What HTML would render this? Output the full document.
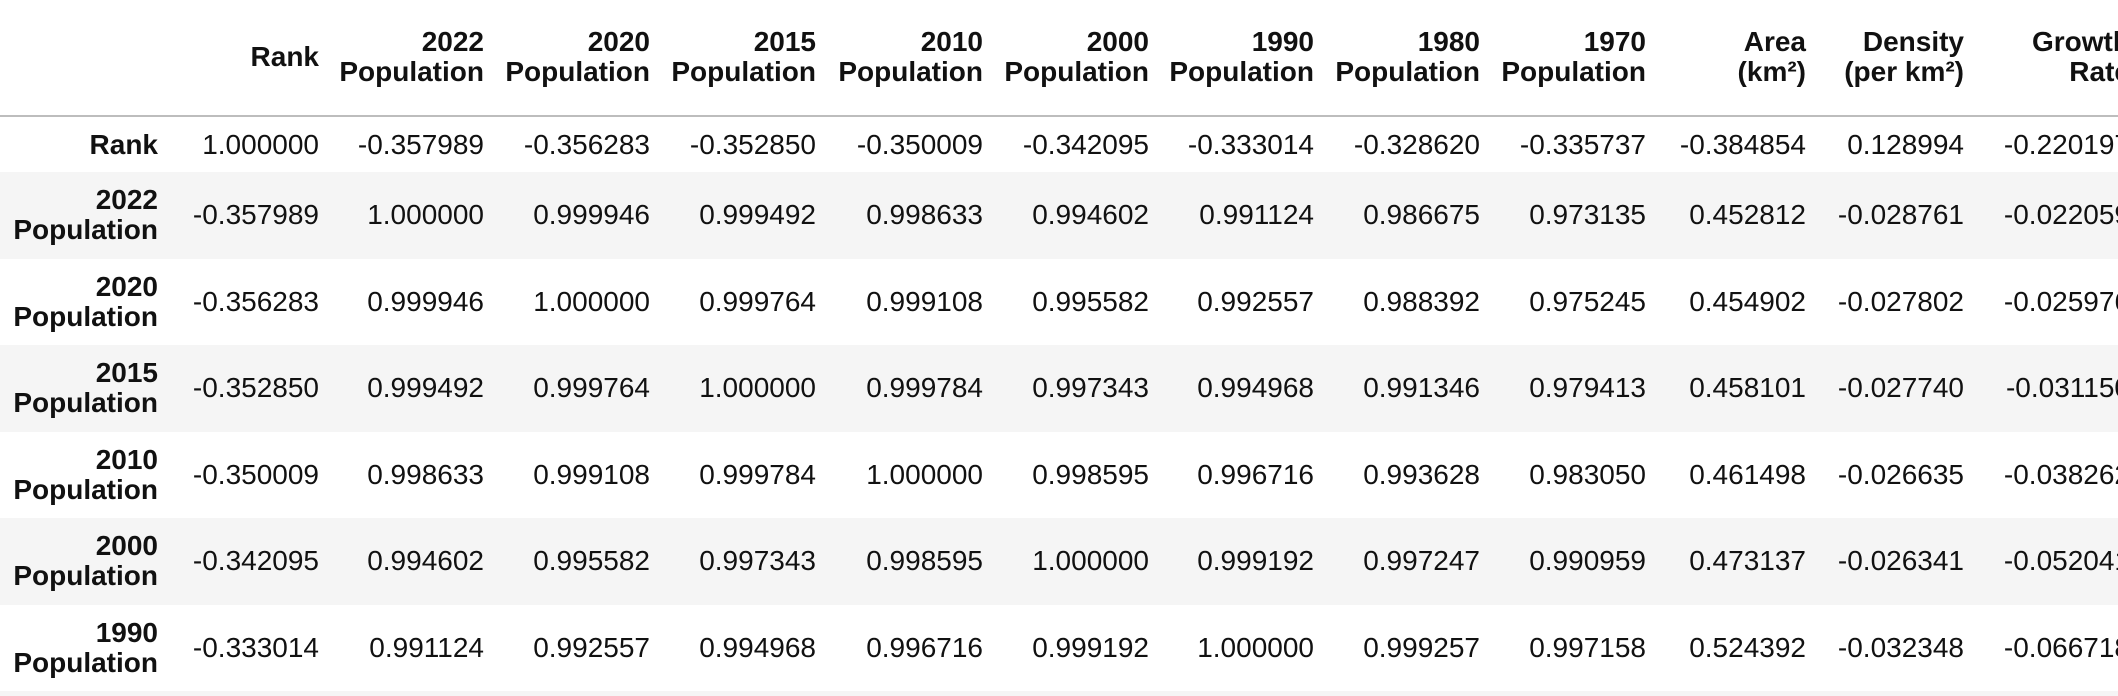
<!DOCTYPE html>
<html><head><meta charset="utf-8">
<style>
html{margin:0;padding:0;width:2118px;height:696px;overflow:hidden;background:#fff;}
body{margin:0;padding:0;width:2118px;height:696px;overflow:hidden;position:relative;background:#fff;font-family:"Liberation Sans",sans-serif;font-size:28px;color:#111;}
.row{position:absolute;left:0;width:2118px;overflow:hidden;}
.c{position:absolute;width:240px;text-align:right;white-space:nowrap;line-height:30px;}
.b{font-weight:bold;}
#hline{position:absolute;left:0;top:115px;width:2118px;height:2px;background:#bdbdbd;}
</style></head>
<body>
<div id="hline"></div>
<script>
const headers=[["Rank"],["2022","Population"],["2020","Population"],["2015","Population"],["2010","Population"],["2000","Population"],["1990","Population"],["1980","Population"],["1970","Population"],["Area","(km²)"],["Density","(per km²)"],["Growth","Rate"]];
const rowLabels=[["Rank"],["2022","Population"],["2020","Population"],["2015","Population"],["2010","Population"],["2000","Population"],["1990","Population"]];
const values=[
["1.000000","-0.357989","-0.356283","-0.352850","-0.350009","-0.342095","-0.333014","-0.328620","-0.335737","-0.384854","0.128994","-0.220197"],
["-0.357989","1.000000","0.999946","0.999492","0.998633","0.994602","0.991124","0.986675","0.973135","0.452812","-0.028761","-0.022059"],
["-0.356283","0.999946","1.000000","0.999764","0.999108","0.995582","0.992557","0.988392","0.975245","0.454902","-0.027802","-0.025976"],
["-0.352850","0.999492","0.999764","1.000000","0.999784","0.997343","0.994968","0.991346","0.979413","0.458101","-0.027740","-0.031150"],
["-0.350009","0.998633","0.999108","0.999784","1.000000","0.998595","0.996716","0.993628","0.983050","0.461498","-0.026635","-0.038262"],
["-0.342095","0.994602","0.995582","0.997343","0.998595","1.000000","0.999192","0.997247","0.990959","0.473137","-0.026341","-0.052041"],
["-0.333014","0.991124","0.992557","0.994968","0.996716","0.999192","1.000000","0.999257","0.997158","0.524392","-0.032348","-0.066718"]];
const rightEdges=[158,319,484,650,816,983,1149,1314,1480,1646,1806,1964,2130];
const body=document.body;
function cell(parent,lines,right,cy,bold){
  const d=document.createElement('div');
  d.className='c'+(bold?' b':'');
  d.style.left=(right-240)+'px';
  d.style.top=(cy-lines.length*15)+'px';
  d.innerHTML=lines.join('<br>');
  parent.appendChild(d);
  return d;
}
const hdr=document.createElement('div');
hdr.className='row';hdr.style.top='0px';hdr.style.height='115px';


body.appendChild(hdr);
headers.forEach((h,i)=>{
  const d=cell(hdr,h,rightEdges[i+1],57,true);
  
  
});
for(let r=0;r<8;r++){
  const top=r===0?117:172+86.5*(r-1);
  let h=r===0?55:86.5;
  if(top+h>696) h=696-top;
  const row=document.createElement('div');
  row.className='row';
  row.style.top=top+'px';row.style.height=h+'px';
  row.style.background=(r%2===1)?'#f5f5f5':'#fff';
  
  
  body.appendChild(row);
  if(r>=rowLabels.length) continue;
  const cy=h/2;
  const lab=cell(row,rowLabels[r],rightEdges[0],cy,true);
  
  
  values[r].forEach((v,j)=>{
    const d=cell(row,[v],rightEdges[j+1],cy,false);
    
    
  });
}
</script>
</body></html>
